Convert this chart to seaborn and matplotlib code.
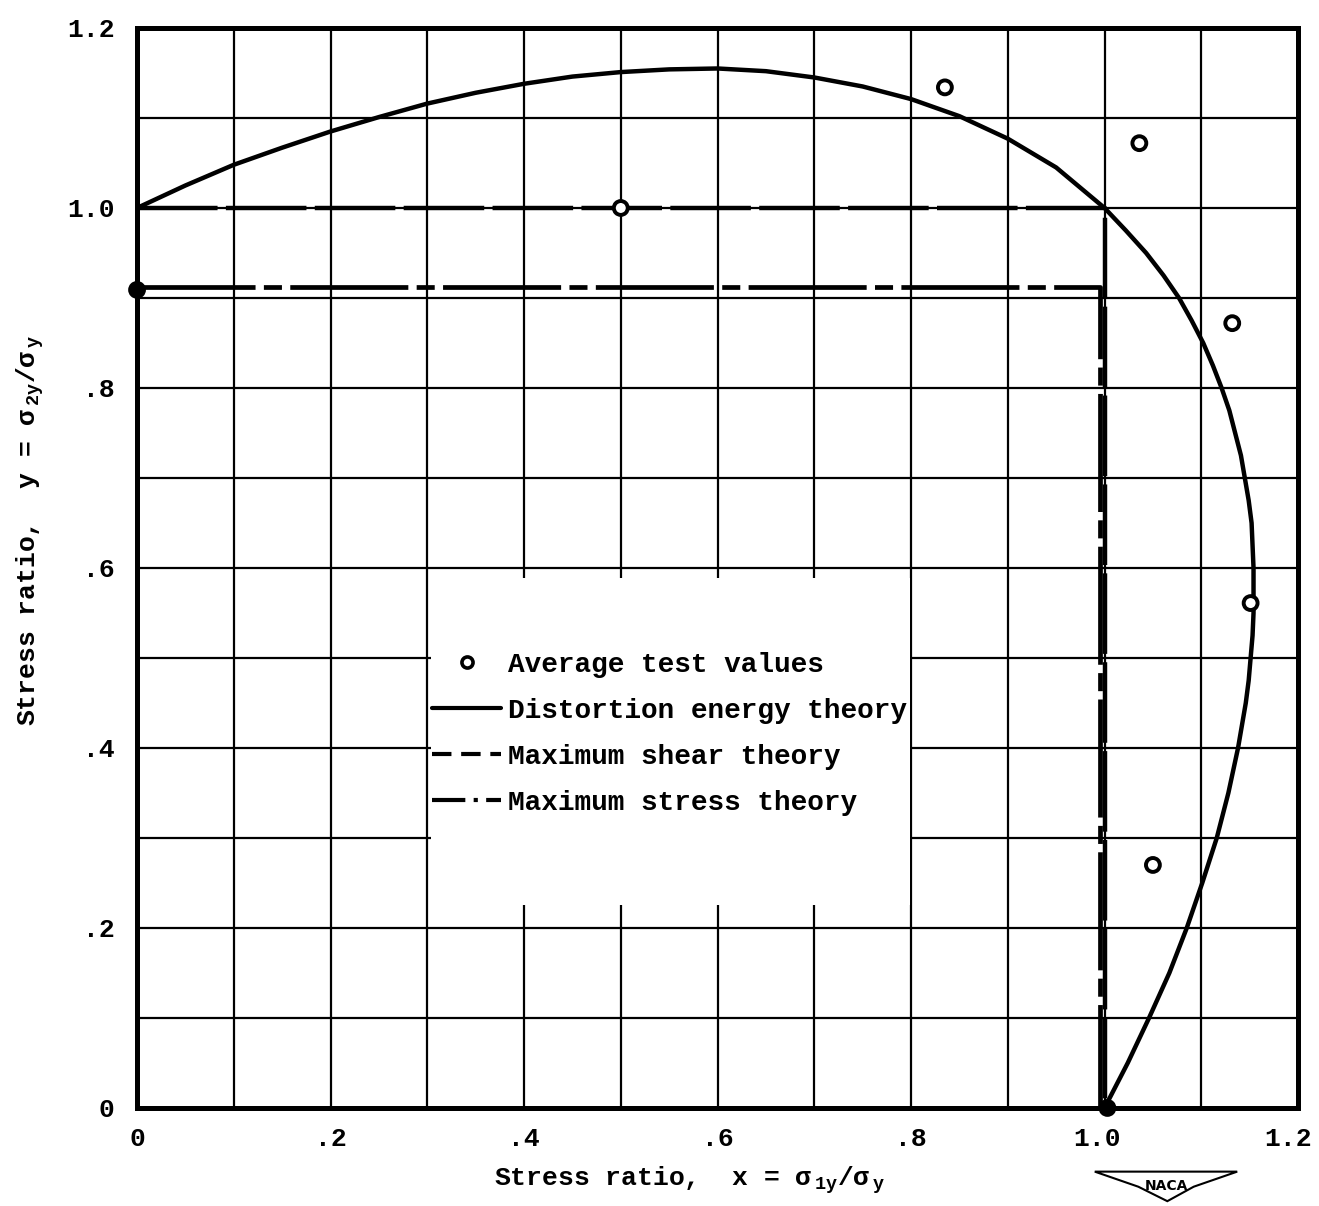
import numpy as np
import pandas as pd
import matplotlib
matplotlib.use("Agg")
import matplotlib.pyplot as plt
import seaborn as sns
from matplotlib.lines import Line2D
from matplotlib.patches import Rectangle, Polygon
from matplotlib.transforms import ScaledTranslation

# ---------------- data ----------------
test_x = [0.0, 0.500, 0.835, 1.036, 1.132, 1.151, 1.050, 1.003]
test_y = [0.909, 1.000, 1.134, 1.072, 0.872, 0.561, 0.270, 0.000]
test_filled = [True, False, False, False, False, False, False, True]

de_x = [0.00, 0.05, 0.10, 0.15, 0.20, 0.25, 0.30, 0.35, 0.40, 0.45, 0.50,
        0.55, 0.60, 0.65, 0.70, 0.75, 0.80, 0.85, 0.90, 0.95, 1.00,
        1.022, 1.043, 1.061, 1.077, 1.090, 1.102, 1.112, 1.121, 1.129,
        1.135, 1.141, 1.145, 1.149, 1.152, 1.154, 1.154, 1.153, 1.151,
        1.149, 1.146, 1.142, 1.138, 1.128, 1.116, 1.101, 1.085, 1.067,
        1.046, 1.024, 1.000]
de_y = [1.000, 1.025, 1.048, 1.067, 1.085, 1.101, 1.116, 1.128, 1.138, 1.146,
        1.151, 1.154, 1.155, 1.152, 1.145, 1.135, 1.121, 1.102, 1.077, 1.045,
        1.000, 0.975, 0.950, 0.925, 0.900, 0.875, 0.850, 0.825, 0.800, 0.775,
        0.750, 0.725, 0.700, 0.675, 0.650, 0.600, 0.550, 0.525, 0.500,
        0.475, 0.450, 0.425, 0.400, 0.350, 0.300, 0.250, 0.200, 0.150,
        0.100, 0.050, 0.000]

shear_x = [0.0, 1.0, 1.0]
shear_y = [1.0, 1.0, 0.0]

stress_x = [0.0, 0.995, 0.995]
stress_y = [0.912, 0.912, 0.0]

tick_vals = [0.0, 0.2, 0.4, 0.6, 0.8, 1.0, 1.2]
tick_labels = ["0", ".2", ".4", ".6", ".8", "1.0", "1.2"]
grid_vals = [0.0, 0.1, 0.2, 0.3, 0.4, 0.5, 0.6, 0.7, 0.8, 0.9, 1.0, 1.1, 1.2]

legend_labels = ["Average test values", "Distortion energy theory",
                 "Maximum shear theory", "Maximum stress theory"]

# ---------------- style ----------------
sns.set_theme(style="white")
plt.rcParams["font.family"] = ["Liberation Mono", "DejaVu Sans Mono"]
plt.rcParams["font.weight"] = "bold"
plt.rcParams["mathtext.fontset"] = "custom"
plt.rcParams["mathtext.rm"] = "Liberation Mono:bold"
plt.rcParams["mathtext.it"] = "Liberation Mono:bold"
plt.rcParams["mathtext.bf"] = "Liberation Mono:bold"
plt.rcParams["lines.scale_dashes"] = False

fig = plt.figure(figsize=(13.19, 12.06), dpi=100)
ax = fig.add_axes([0.1039, 0.0813, 0.8802, 0.8955])

df_de = pd.DataFrame({"x": de_x, "y": de_y})
df_sh = pd.DataFrame({"x": shear_x, "y": shear_y})
df_st = pd.DataFrame({"x": stress_x, "y": stress_y})
df_t = pd.DataFrame({"x": test_x, "y": test_y, "filled": test_filled})

sns.lineplot(data=df_de, x="x", y="y", sort=False, estimator=None, ax=ax,
             color="black", lw=3.2, zorder=3)
l_sh = sns.lineplot(data=df_sh, x="x", y="y", sort=False, estimator=None,
                    ax=ax, color="black", lw=3.2, zorder=3).lines[-1]
l_sh.set_dashes((58, 6))
l_st = sns.lineplot(data=df_st, x="x", y="y", sort=False, estimator=None,
                    ax=ax, color="black", lw=3.4, zorder=3).lines[-1]
l_st.set_dashes((85, 6, 13, 6))
face = ["black" if f else "white" for f in df_t["filled"]]
ax.scatter(df_t["x"], df_t["y"], s=100, marker="o", facecolors=face,
           edgecolors="black", linewidths=2.8, zorder=4, clip_on=False)

# ---------------- axes ----------------
ax.set_xlim(0, 1.2)
ax.set_ylim(0, 1.2)
ax.set_xticks(grid_vals, minor=True)
ax.set_yticks(grid_vals, minor=True)
ax.set_xticks(tick_vals)
ax.set_yticks(tick_vals)
ax.set_xticklabels(tick_labels, fontsize=19, fontweight="bold")
ax.set_yticklabels(tick_labels, fontsize=19, fontweight="bold")
ax.tick_params(axis="x", which="both", length=0, pad=14, colors="black")
ax.tick_params(axis="y", which="both", length=0, pad=16, colors="black")
xl = ax.get_xticklabels()
for lab, dx in ((xl[-2], -7), (xl[-1], -10)):
    lab.set_transform(lab.get_transform() +
                      ScaledTranslation(dx / 100, 0, fig.dpi_scale_trans))
ax.grid(True, which="both", color="black", lw=1.6)
ax.set_axisbelow(True)
for s in ax.spines.values():
    s.set_visible(True)
    s.set_color("black")
    s.set_linewidth(3.6)

ax.set_xlabel(r"Stress ratio,  x = $\sigma_{\ \mathrm{1y}}/\sigma_{\ \mathrm{y}}$",
              fontsize=19, color="black", fontweight="bold")
ax.set_ylabel(r"Stress ratio,  y = $\sigma_{\ \mathrm{2y}}/\sigma_{\ \mathrm{y}}$",
              fontsize=19, color="black", fontweight="bold")
ax.xaxis.set_label_coords(0.476, -0.052)
ax.yaxis.set_label_coords(-0.078, 0.535)

# white legend panel
ax.add_patch(Rectangle((0.2535, 0.188), 0.412, 0.3027, transform=ax.transAxes,
                       facecolor="white", edgecolor="none", zorder=1.5))

handles = [
    Line2D([], [], ls="none", marker="o", ms=8, mew=2.6, mfc="white", mec="black"),
    Line2D([], [], color="black", lw=3),
    Line2D([], [], color="black", lw=3, dashes=(14, 7)),
    Line2D([], [], color="black", lw=3, dashes=(24, 6, 3, 6)),
]
leg = ax.legend(handles, legend_labels, loc="upper left",
                bbox_to_anchor=(0.254, 0.422), frameon=False,
                prop={"size": 20, "weight": "bold",
                      "family": ["Liberation Mono", "DejaVu Sans Mono"]},
                handlelength=2.5, handletextpad=0.25, labelspacing=0.72,
                borderaxespad=0, borderpad=0)
for t in leg.get_texts():
    t.set_color("black")

# NACA emblem
wing = Polygon([[0.830, 0.0285], [0.938, 0.0285], [0.905, 0.016], [0.885, 0.004],
                [0.863, 0.016]], closed=True, transform=fig.transFigure,
               facecolor="white", edgecolor="black", lw=1.5)
fig.add_artist(wing)
fig.text(0.884, 0.0165, "NACA", fontsize=10, ha="center", va="center",
         family=["DejaVu Sans"], color="black")

fig.savefig("out.png", dpi=100)
